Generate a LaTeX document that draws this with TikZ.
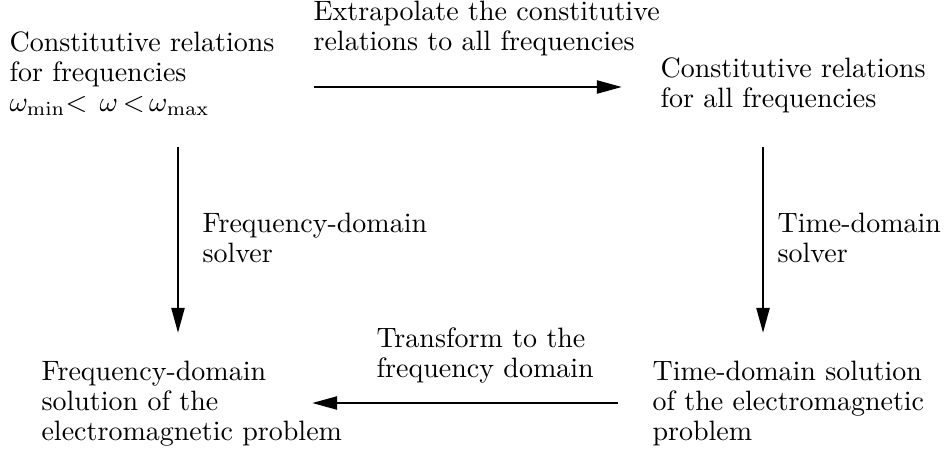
\documentclass[tikz,border=0pt]{standalone}
\usepackage{amsmath, amssymb}
\usepackage{tikz}
\usetikzlibrary{arrows.meta, positioning}

\begin{document}
\begin{tikzpicture}[x=0.357pt,y=0.357pt,yscale=-1,xscale=1,
		txt/.style={anchor=base west,inner sep=0pt,align=left,font=\fontsize{10}{10.7}\selectfont},
		flow/.style={line width=1pt,-{Triangle[length=9pt,width=4.6pt]}}]
			\useasboundingbox (0,0) rectangle (944,452);

			% Text Node (anchored at the baseline of the last line)
			\node [txt] (cfrq) at (9,111) {Constitutive relations\\for frequencies\\$\omega_{\min}{<}\;\,\omega\,{<}\,\omega_{\max}$};
			% Text Node
			\node [txt] (call) at (660,107) {Constitutive relations\\for all frequencies};
			% Text Node
			\node [txt] (fsol) at (41,440) {Frequency-domain\\solution of the\\electromagnetic problem};
			% Text Node
			\node [txt] (tsol) at (652,440) {Time-domain solution\\of the electromagnetic\\problem};

			% Text Node
			\node [txt] (lext) at (313,50) {Extrapolate the constitutive\\relations to all frequencies};
			% Text Node
			\node [txt] (lfsv) at (202,262) {Frequency-domain\\solver};
			% Text Node
			\node [txt] (ltsv) at (777,262) {Time-domain\\solver};
			% Text Node
			\node [txt] (ltrf) at (376,377) {Transform to the\\frequency domain};

			%Arrow ends
			\coordinate (ta) at (314,87);
			\coordinate (tb) at (622,87);
			\coordinate (la) at (178,147);
			\coordinate (lb) at (178,333);
			\coordinate (ra) at (763,147);
			\coordinate (rb) at (763,333);
			\coordinate (ba) at (618,403);
			\coordinate (bb) at (312,403);

			%Straight Lines
			\draw [flow] (ta) -- (tb) ;
			%Straight Lines
			\draw [flow] (la) -- (lb) ;
			%Straight Lines
			\draw [flow] (ra) -- (rb) ;
			%Straight Lines
			\draw [flow] (ba) -- (bb) ;

		\end{tikzpicture}
\end{document}
